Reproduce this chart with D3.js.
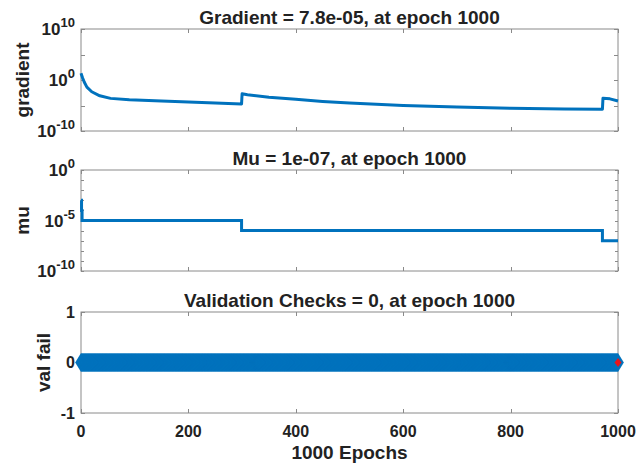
<!DOCTYPE html>
<html><head><meta charset="utf-8">
<script src="https://cdn.jsdelivr.net/npm/d3@7"></script>
<style>
body{margin:0;background:#fff;}
svg text{font-family:"Liberation Sans",Arial,sans-serif;font-weight:bold;fill:#222;}
</style></head>
<body><svg id="c" width="639" height="463"></svg>
<script>
// ---- data ----
const gradEpochs = [0, 3, 6, 11, 20, 35, 55, 90, 150, 200, 250, 299, 300, 310, 350, 400, 450, 500, 600, 700, 800, 900, 971, 972, 985, 1000];
const gradValues = [20, 2.5, 0.4, 0.04, 5e-3, 8e-4, 2.5e-4, 1.3e-4, 8e-5, 5e-5, 3.2e-5, 2e-5, 2e-3, 1.3e-3, 4e-4, 1.6e-4, 6.3e-5, 3.2e-5, 1e-5, 5e-6, 2.8e-6, 2e-6, 1.8e-6, 2.5e-4, 2e-4, 7.8e-5];
const muEpochs = [0, 1, 2, 299, 971, 1000];
const muValues = [1e-3, 1e-4, 1e-5, 1e-6, 1e-7, 1e-7];
const valFailFirstEpoch = 0, valFailLastEpoch = 1000, valFailValue = 0;
const bestEpoch = 1000, bestValFail = 0;
const xTicks = [0, 200, 400, 600, 800, 1000];
const gradTicks = [1e-10, 1e-5, 1, 1e5, 1e10];
const gradLabelExp = ["-10", "0", "10"];
const muTicks = [1e-10,1e-9,1e-8,1e-7,1e-6,1e-5,1e-4,1e-3,1e-2,1e-1,1];
const muLabelExp = ["-10", "-5", "0"];
const valTicks = [-1, 0, 1];
const titles = ["Gradient = 7.8e-05, at epoch 1000", "Mu = 1e-07, at epoch 1000", "Validation Checks = 0, at epoch 1000"];
const yLabels = ["gradient", "mu", "val fail"];
const xLabel = "1000 Epochs";

// ---- layout ----
const svg = d3.select("#c");
const L = 81, R = 618;
const panels = [[29,131],[170,271],[312,413]];
const blue = "#0072BD";
const x = d3.scaleLinear().domain([0,1000]).range([L,R]);

function frame(top, bot, yScale, yTickVals, yTickLen) {
  const g = svg.append("g");
  g.append("rect").attr("x",L).attr("y",top).attr("width",R-L).attr("height",bot-top)
    .attr("fill","none").attr("stroke","#8a8a8a").attr("stroke-width",1);
  xTicks.forEach(t=>{
    const xx = Math.round(x(t))+0.5;
    g.append("line").attr("x1",xx).attr("x2",xx).attr("y1",top).attr("y2",top+4).attr("stroke","#8a8a8a");
    g.append("line").attr("x1",xx).attr("x2",xx).attr("y1",bot).attr("y2",bot-4).attr("stroke","#8a8a8a");
  });
  yTickVals.forEach(t=>{
    const yy = Math.round(yScale(t))+0.5;
    g.append("line").attr("x1",L).attr("x2",L+yTickLen).attr("y1",yy).attr("y2",yy).attr("stroke","#8a8a8a");
    g.append("line").attr("x1",R).attr("x2",R-yTickLen).attr("y1",yy).attr("y2",yy).attr("stroke","#8a8a8a");
  });
  return g;
}
function expLabel(y, exp) {
  const t = svg.append("text").attr("x",L-6).attr("y",y+6).attr("text-anchor","end").attr("font-size",17);
  t.append("tspan").text("10");
  t.append("tspan").attr("font-size",13).attr("dy",-8).text(exp);
}
function title(i, top) {
  svg.append("text").attr("x",(L+R)/2).attr("y",top-5).attr("text-anchor","middle").attr("font-size",19).text(titles[i]);
}
function ylab(i, cx, cy) {
  svg.append("text").attr("transform",`translate(${cx},${cy}) rotate(-90)`).attr("text-anchor","middle")
    .attr("dy","0.35em").attr("font-size",19).text(yLabels[i]);
}

// Panel 1: gradient
{
  const [top,bot] = panels[0];
  const y = d3.scaleLog().domain([1e-10,1e10]).range([bot,top]);
  frame(top,bot,y,gradTicks,4);
  const line = d3.line().x((d,i)=>x(gradEpochs[i])).y(d=>y(d));
  svg.append("path").attr("d",line(gradValues)).attr("fill","none").attr("stroke",blue).attr("stroke-width",3).attr("stroke-linejoin","round");
  [1e-10,1,1e10].forEach((v,i)=>expLabel(y(v), gradLabelExp[i]));
  title(0, top);
  ylab(0, 22, (top+bot)/2);
}
// Panel 2: mu
{
  const [top,bot] = panels[1];
  const y = d3.scaleLog().domain([1e-10,1]).range([bot,top]);
  frame(top,bot,y,muTicks,3);
  const line = d3.line().curve(d3.curveStepAfter).x((d,i)=>x(muEpochs[i])).y(d=>y(d));
  svg.append("path").attr("d",line(muValues)).attr("fill","none").attr("stroke",blue).attr("stroke-width",3);
  [1e-10,1e-5,1].forEach((v,i)=>expLabel(y(v), muLabelExp[i]));
  title(1, top);
  ylab(1, 22, (top+bot)/2);
}
// Panel 3: val fail
{
  const [top,bot] = panels[2];
  const y = d3.scaleLinear().domain([-1,1]).range([bot,top]);
  frame(top,bot,y,valTicks,4);
  const epochs = d3.range(valFailFirstEpoch, valFailLastEpoch+1);
  const dia = (cx,cy,w,h)=>`M${cx},${cy-h}L${cx+w},${cy}L${cx},${cy+h}L${cx-w},${cy}Z`;
  svg.append("g").selectAll("path").data(epochs).join("path")
    .attr("d",e=>dia(x(e),y(valFailValue),5.5,9)).attr("fill",blue).attr("stroke",blue).attr("stroke-width",0.5);
  svg.append("path").attr("d",dia(x(bestEpoch),y(bestValFail),3.5,4.5)).attr("fill","#e8141c");
  valTicks.forEach(v=>{
    svg.append("text").attr("x",L-6).attr("y",y(v)).attr("dy","0.35em").attr("text-anchor","end").attr("font-size",16).text(v);
  });
  xTicks.forEach(v=>{
    svg.append("text").attr("x",x(v)).attr("y",bot+24).attr("text-anchor","middle").attr("font-size",16).text(v);
  });
  title(2, top);
  ylab(2, 43, (top+bot)/2);
  svg.append("text").attr("x",(L+R)/2).attr("y",459).attr("text-anchor","middle").attr("font-size",19).text(xLabel);
}
</script></body></html>
